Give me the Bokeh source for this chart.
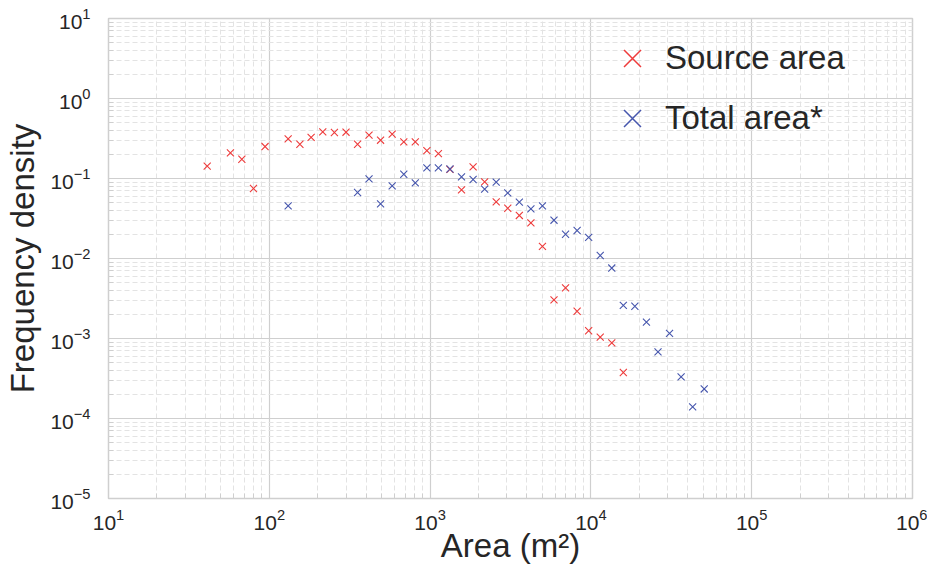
from bokeh.plotting import figure
from bokeh.models import Legend, LegendItem, FixedTicker, LogTickFormatter
from bokeh.embed import file_html
from bokeh.resources import INLINE

# Bin centres (m²) and frequency densities
source_area = [41.1, 57.3, 67.5, 79.7, 94.1, 131, 155, 182, 215, 254, 300, 354,
               417, 492, 581, 686, 809, 955, 1126, 1329, 1568, 1851, 2184, 2577,
               3041, 3589, 4235, 4996, 5895, 6956, 8208, 9683, 11430, 13485, 15910]
source_density = [0.143, 0.209, 0.174, 0.075, 0.251, 0.313, 0.268, 0.326, 0.382,
                  0.376, 0.379, 0.268, 0.348, 0.301, 0.358, 0.287, 0.287, 0.223,
                  0.205, 0.130, 0.0722, 0.140, 0.0907, 0.051, 0.0425, 0.0345,
                  0.0279, 0.0142, 0.00304, 0.00429, 0.00219, 0.00125, 0.00104,
                  0.00088, 0.000376]

total_area = [131, 354, 417, 492, 581, 686, 809, 955, 1126, 1329, 1568, 1851,
              2184, 2577, 3041, 3589, 4235, 4996, 5895, 6956, 8208, 9683, 11430,
              13485, 15910, 18770, 22150, 26140, 30840, 36390, 42940, 50660]
total_density = [0.0455, 0.0668, 0.0989, 0.0481, 0.0808, 0.113, 0.0881, 0.136,
                 0.136, 0.1315, 0.1047, 0.0972, 0.0735, 0.0899, 0.066, 0.0506,
                 0.0417, 0.0455, 0.0301, 0.0201, 0.0224, 0.0184, 0.0109, 0.0076,
                 0.0026, 0.00253, 0.0016, 0.00068, 0.00116, 0.000331, 0.00014,
                 0.000234]

x_ticks = [1e1, 1e2, 1e3, 1e4, 1e5, 1e6]
y_ticks = [1e-5, 1e-4, 1e-3, 1e-2, 1e-1, 1e0, 1e1]

RED = "#ee3b3b"
BLUE = "#4656ad"
FONT = "Liberation Sans"
TEXT = "#262626"
GRID = "#cfcfcf"

p = figure(frame_width=804, frame_height=480, x_axis_type="log", y_axis_type="log",
           x_range=(1e1, 1e6), y_range=(1e-5, 1e1),
           output_backend="svg", toolbar_location=None,
           min_border_left=108, min_border_right=15,
           min_border_top=18, min_border_bottom=40)

p.outline_line_color = GRID
p.outline_line_width = 1.5
p.background_fill_color = "white"

minor_x = [m * 10 ** e for e in range(1, 6) for m in range(2, 10)]
minor_y = [m * 10 ** e for e in range(-5, 1) for m in range(2, 10)]

for ax, ticks, minors in ((p.xaxis[0], x_ticks, minor_x),
                          (p.yaxis[0], y_ticks, minor_y)):
    ax.ticker = FixedTicker(ticks=ticks, minor_ticks=minors)
    ax.formatter = LogTickFormatter()
    ax.major_label_text_font = FONT
    ax.major_label_text_font_size = "21px"
    ax.major_label_text_color = TEXT
    ax.axis_line_color = None
    ax.major_tick_line_color = None
    ax.minor_tick_line_color = GRID
    ax.minor_tick_in = 5
    ax.minor_tick_out = 0
    ax.axis_label_text_font = FONT
    ax.axis_label_text_font_style = "normal"
    ax.axis_label_text_color = TEXT
    ax.axis_label_text_font_size = "33px"

p.xaxis.axis_label = "Area (m²)"
p.yaxis.axis_label = "Frequency density"
p.xaxis.major_label_standoff = 4
p.yaxis.major_label_standoff = 12
p.xaxis.axis_label_standoff = -6
p.yaxis.axis_label_standoff = 6

for g in (p.xgrid[0], p.ygrid[0]):
    g.grid_line_color = GRID
    g.grid_line_width = 1.2
    g.minor_grid_line_color = "#e3e3e3"
    g.minor_grid_line_dash = "5 3"
    g.minor_grid_line_width = 1

p.scatter(source_area, source_density, marker="x", size=10,
          line_color=RED, line_width=1.1)
p.scatter(total_area, total_density, marker="x", size=10,
          line_color=BLUE, line_width=1.1)

# marker swatches for the legend (one point each, placed off-range)
key_src = p.scatter(x=[1.0], y=[1e-9], marker="x", size=20, line_color=RED, line_width=1.5)
key_tot = p.scatter(x=[1.0], y=[1e-9], marker="x", size=20, line_color=BLUE, line_width=1.5)

legend = Legend(items=[LegendItem(label="Source area", renderers=[key_src]),
                       LegendItem(label="Total area*", renderers=[key_tot])],
                location=(491, 350), orientation="vertical")
legend.background_fill_alpha = 0
legend.border_line_alpha = 0
legend.padding = 0
legend.margin = 0
legend.spacing = 0
legend.glyph_width = 66
legend.glyph_height = 60
legend.label_height = 40
legend.label_standoff = 0
legend.label_text_font = FONT
legend.label_text_font_size = "33px"
legend.label_text_color = TEXT
p.add_layout(legend, "center")

open("out.html", "w").write(file_html(p, INLINE))
